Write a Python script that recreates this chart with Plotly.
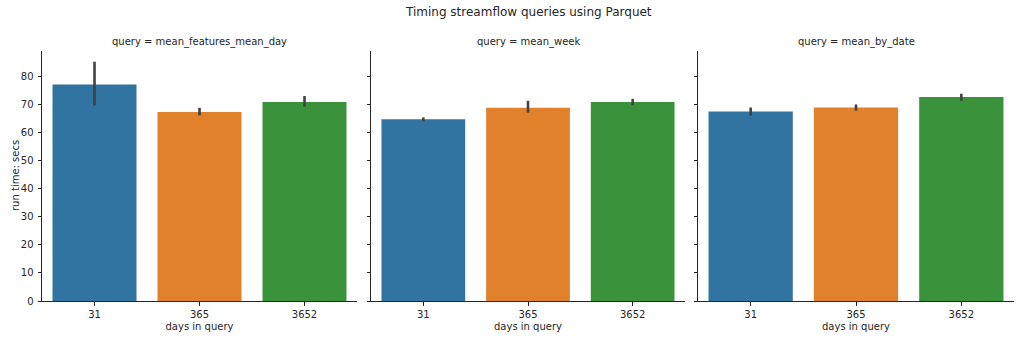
import plotly.graph_objects as go

categories = ["31", "365", "3652"]
queries = ["mean_features_mean_day", "mean_week", "mean_by_date"]
means = {
    "mean_features_mean_day": [77.0, 67.2, 70.8],
    "mean_week": [64.6, 68.7, 70.8],
    "mean_by_date": [67.4, 68.8, 72.5],
}
ci_low = {
    "mean_features_mean_day": [69.5, 66.0, 69.1],
    "mean_week": [63.9, 67.0, 69.6],
    "mean_by_date": [65.9, 67.7, 71.2],
}
ci_high = {
    "mean_features_mean_day": [85.1, 68.7, 72.9],
    "mean_week": [65.3, 71.2, 71.9],
    "mean_by_date": [68.8, 69.9, 73.7],
}
colors = ["#3274a1", "#e1812c", "#3a923a"]
yticks = [0, 10, 20, 30, 40, 50, 60, 70, 80]

W, H = 1024, 341
xdoms = [(42, 357), (371, 685), (698, 1014)]
ytop, ybot = 51, 301
ydom = [1 - ybot / H, 1 - ytop / H]

FONT = "DejaVu Sans"
FS = 10
spine = "#262626"
txt = "#262626"
fig = go.Figure()
annotations = []
for i, q in enumerate(queries):
    ax = "" if i == 0 else str(i + 1)
    m = means[q]
    plus = [h - v for h, v in zip(ci_high[q], m)]
    minus = [v - l for v, l in zip(m, ci_low[q])]
    fig.add_trace(go.Bar(
        x=categories, y=m,
        marker=dict(color=colors, line=dict(width=0)),
        width=0.8,
        error_y=dict(type="data", array=plus, arrayminus=minus, visible=True,
                     color="#424242", thickness=2.6, width=0),
        xaxis="x" + ax, yaxis="y" + ax, showlegend=False,
    ))
    x0, x1 = xdoms[i]
    fig.layout["xaxis" + ax] = dict(
        domain=[x0 / W, x1 / W], anchor="y" + ax, type="category",
        range=[-0.5, 2.5], showline=True, linecolor=spine, linewidth=1,
        ticks="outside", ticklen=3.5, tickwidth=0.8, tickcolor=spine,
        showgrid=False, zeroline=False, automargin=False,
        tickfont=dict(family=FONT, size=FS, color=txt),
        title=dict(text="days in query", standoff=4,
                   font=dict(family=FONT, size=FS, color=txt)),
    )
    fig.layout["yaxis" + ax] = dict(
        domain=ydom, anchor="x" + ax, range=[0, 88.9],
        showline=True, linecolor=spine, linewidth=1,
        ticks="outside", ticklen=3.5, tickwidth=0.8, tickcolor=spine,
        tickvals=yticks, showticklabels=(i == 0), ticklabelstandoff=2,
        showgrid=False, zeroline=False, automargin=False,
        tickfont=dict(family=FONT, size=FS, color=txt),
    )
    annotations.append(dict(
        text="query = " + q, x=(x0 + x1) / 2 / W, y=1 - 42 / H,
        xref="paper", yref="paper", showarrow=False,
        xanchor="center", yanchor="middle",
        font=dict(family=FONT, size=FS, color=txt),
    ))

annotations.append(dict(
    text="run time: secs", x=15 / W, y=1 - 176 / H, textangle=-90,
    xref="paper", yref="paper", showarrow=False,
    xanchor="center", yanchor="middle",
    font=dict(family=FONT, size=FS, color=txt),
))
annotations.append(dict(
    text="Timing streamflow queries using Parquet", x=528 / W, y=1 - 12 / H,
    xref="paper", yref="paper", showarrow=False,
    xanchor="center", yanchor="middle",
    font=dict(family=FONT, size=12, color=txt),
))

fig.update_layout(
    width=W, height=H, margin=dict(l=0, r=0, t=0, b=0),
    paper_bgcolor="white", plot_bgcolor="white",
    annotations=annotations, bargap=0.2,
)
fig.write_html("out.html")
